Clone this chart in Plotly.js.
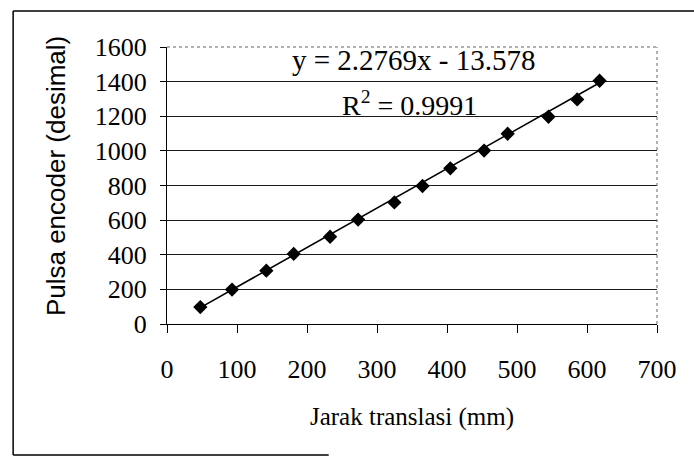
<!DOCTYPE html>
<html>
<head>
<meta charset="utf-8">
<script src="https://cdn.plot.ly/plotly-3.0.1.min.js"></script>
<style>
  html, body { margin: 0; padding: 0; background: #fff; }
  #chart { width: 694px; height: 459px; }
</style>
</head>
<body>
<div id="chart"></div>
<script>
// Data
const jarakTranslasi = [47.6, 92.9, 141.9, 181, 233, 273, 324.8, 365, 404.8, 453, 486.7, 545, 586, 618];
const pulsaEncoder   = [98, 199, 308, 405, 504, 603, 702, 797, 899, 1002, 1099, 1197, 1297, 1405];

// Trendline equation shown on the chart
const trendSlope = 2.2769;
const trendIntercept = -13.578;
const rSquared = 0.9991;

// Axis ticks and titles
const xTickVals = [0, 100, 200, 300, 400, 500, 600, 700];
const yTickVals = [0, 200, 400, 600, 800, 1000, 1200, 1400, 1600];
const xTitle = 'Jarak translasi (mm)';
const yTitle = 'Pulsa encoder (desimal)';

const xMin = Math.min(...jarakTranslasi);
const xMax = Math.max(...jarakTranslasi);
const trendX = [xMin, xMax];
const trendY = trendX.map(v => trendSlope * v + trendIntercept);

const serif = '"Liberation Serif", "Times New Roman", serif';
const sans = '"Liberation Sans", Arial, sans-serif';

const traces = [
  {
    x: trendX, y: trendY, mode: 'lines', type: 'scatter',
    line: { color: '#000', width: 1.6 }, hoverinfo: 'skip', showlegend: false
  },
  {
    x: jarakTranslasi, y: pulsaEncoder, mode: 'markers', type: 'scatter',
    marker: { symbol: 'diamond', size: 11, color: '#000' }, showlegend: false
  }
];

const layout = {
  width: 694, height: 459,
  margin: { l: 167, r: 37, t: 47, b: 135 },
  paper_bgcolor: '#fff', plot_bgcolor: '#fff',
  showlegend: false,
  xaxis: {
    range: [0, 700], tickvals: xTickVals, ticktext: xTickVals.map(String),
    showgrid: false, zeroline: false,
    showline: true, linecolor: '#000', linewidth: 1,
    ticks: 'outside', ticklen: 8, tickcolor: '#000', tickwidth: 1,
    ticklabelstandoff: 14,
    tickfont: { family: serif, size: 26, color: '#000' },
    title: { text: xTitle, font: { family: serif, size: 25, color: '#000' }, standoff: 24 }
  },
  yaxis: {
    range: [0, 1600], tickvals: yTickVals, ticktext: yTickVals.map(String),
    showgrid: true, gridcolor: '#1a1a1a', gridwidth: 1, zeroline: false,
    showline: true, linecolor: '#000', linewidth: 1,
    ticks: 'outside', ticklen: 6, tickcolor: '#000', tickwidth: 1,
    ticklabelstandoff: 8,
    tickfont: { family: serif, size: 26, color: '#000' }
  },
  shapes: [
    // plot-area top and right border (dotted)
    { type: 'line', xref: 'paper', yref: 'paper', x0: 0, x1: 1, y0: 1, y1: 1, line: { color: '#fff', width: 2 } },
    { type: 'line', xref: 'paper', yref: 'paper', x0: 0, x1: 1, y0: 1, y1: 1, line: { color: '#666', width: 1, dash: 'dot' } },
    { type: 'line', xref: 'paper', yref: 'paper', x0: 1, x1: 1, y0: 0, y1: 1, line: { color: '#666', width: 1, dash: 'dot' } },
    // outer frame (left, top, partial bottom)
    { type: 'line', xref: 'paper', yref: 'paper', x0: -0.314, x1: -0.314, y0: -0.473, y1: 1.13, line: { color: '#000', width: 1.5 } },
    { type: 'line', xref: 'paper', yref: 'paper', x0: -0.314, x1: 1.08, y0: 1.13, y1: 1.13, line: { color: '#000', width: 1.5 } },
    { type: 'line', xref: 'paper', yref: 'paper', x0: -0.314, x1: 0.33, y0: -0.473, y1: -0.473, line: { color: '#000', width: 1.5 } }
  ],
  annotations: [
    {
      xref: 'paper', yref: 'paper', x: -0.2265, y: 0.534, xanchor: 'center', yanchor: 'middle',
      text: yTitle, textangle: -90, showarrow: false,
      font: { family: sans, size: 26, color: '#000' }
    },
    {
      xref: 'paper', yref: 'paper', x: 0.505, y: 0.952, xanchor: 'center', yanchor: 'middle',
      text: 'y = ' + trendSlope + 'x - ' + Math.abs(trendIntercept), showarrow: false,
      font: { family: serif, size: 29, color: '#000' }
    },
    {
      xref: 'paper', yref: 'paper', x: 0.495, y: 0.795, xanchor: 'center', yanchor: 'middle',
      text: 'R<sup>2</sup> = ' + rSquared, showarrow: false,
      font: { family: serif, size: 28, color: '#000' }
    }
  ]
};

Plotly.newPlot('chart', traces, layout, { displayModeBar: false, staticPlot: true });
</script>
</body>
</html>
